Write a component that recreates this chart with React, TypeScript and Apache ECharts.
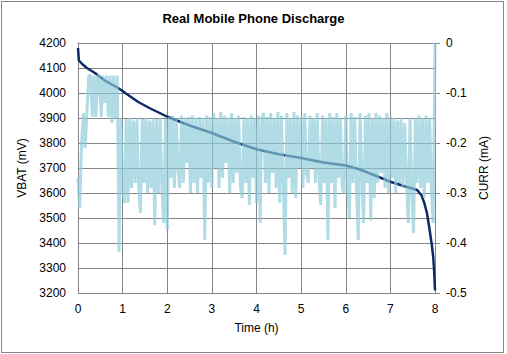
import React, { useEffect, useRef } from "react";
import * as echarts from "echarts";

const chartTitle = "Real Mobile Phone Discharge";
const xAxisName = "Time (h)";
const leftAxisName = "VBAT (mV)";
const rightAxisName = "CURR (mA)";

// Battery voltage (mV) vs time (h)
const voltageTimes = [0, 0.02, 0.1, 0.2, 0.38, 0.6, 0.9, 1.1, 1.35, 1.6, 2.0, 2.5, 3.0, 3.5, 4.0, 4.5, 5.0, 5.5, 6.0, 6.3, 6.66, 7.0, 7.3, 7.6, 7.7, 7.76, 7.82, 7.89, 7.93, 7.96, 7.98, 8.0];
const voltageValues = [4180, 4130, 4115, 4100, 4080, 4050, 4020, 3995, 3964, 3940, 3905, 3870, 3840, 3805, 3775, 3755, 3740, 3722, 3710, 3695, 3670, 3645, 3628, 3612, 3590, 3560, 3520, 3440, 3390, 3344, 3290, 3210];

// Current (mA), sampled every 0.04 h from t = 0 to t = 8
const currentStepHours = 0.04;
const currentValues = [
  // hour 0
  -0.27, -0.33, -0.2, -0.14, -0.21, -0.14, -0.065, -0.065, -0.148, -0.065, -0.148, -0.065, -0.065, -0.148, -0.065, -0.12, -0.065, -0.148, -0.065, -0.16, -0.065, -0.15, -0.065, -0.418, -0.15,
  // hour 1
  -0.29, -0.32, -0.152, -0.32, -0.15, -0.29, -0.155, -0.28, -0.15, -0.29, -0.34, -0.152, -0.28, -0.15, -0.3, -0.155, -0.29, -0.15, -0.364, -0.152, -0.3, -0.15, -0.29, -0.36, -0.152,
  // hour 2
  -0.374, -0.148, -0.27, -0.145, -0.29, -0.15, -0.25, -0.29, -0.145, -0.28, -0.15, -0.24, -0.148, -0.3, -0.145, -0.28, -0.15, -0.3, -0.148, -0.27, -0.15, -0.394, -0.145, -0.28, -0.148,
  // hour 3
  -0.29, -0.14, -0.25, -0.15, -0.29, -0.138, -0.27, -0.145, -0.24, -0.15, -0.3, -0.14, -0.28, -0.15, -0.26, -0.145, -0.29, -0.31, -0.148, -0.28, -0.15, -0.324, -0.145, -0.27, -0.15,
  // hour 4
  -0.32, -0.145, -0.36, -0.15, -0.14, -0.28, -0.148, -0.3, -0.14, -0.26, -0.15, -0.29, -0.138, -0.32, -0.145, -0.28, -0.424, -0.14, -0.27, -0.15, -0.3, -0.138, -0.31, -0.145, -0.25,
  // hour 5
  -0.15, -0.29, -0.14, -0.26, -0.28, -0.145, -0.25, -0.15, -0.28, -0.14, -0.27, -0.324, -0.145, -0.28, -0.15, -0.394, -0.14, -0.28, -0.148, -0.33, -0.14, -0.27, -0.15, -0.29, -0.3,
  // hour 6
  -0.145, -0.28, -0.35, -0.14, -0.28, -0.148, -0.29, -0.394, -0.14, -0.27, -0.36, -0.145, -0.28, -0.14, -0.355, -0.15, -0.31, -0.14, -0.28, -0.145, -0.26, -0.15, -0.29, -0.14, -0.3,
  // hour 7 .. 8
  -0.148, -0.27, -0.15, -0.3, -0.155, -0.28, -0.15, -0.29, -0.16, -0.27, -0.36, -0.15, -0.3, -0.38, -0.15, -0.28, -0.145, -0.29, -0.15, -0.31, -0.145, -0.28, -0.15, -0.3, -0.36, 0,
];

const FONT = "'Liberation Sans', Arial, sans-serif";
const GRID_COLOR = "#868686";

export default function App() {
  const ref = useRef<HTMLDivElement>(null);

  useEffect(() => {
    if (!ref.current) return;
    const chart = echarts.init(ref.current, undefined, { renderer: "svg" });
    const voltageData = voltageTimes.map((t, i) => [t, voltageValues[i]]);
    const currentData = currentValues.map((v, i) => [i * currentStepHours, v]);
    const labelStyle = { color: "#000", fontSize: 12, fontFamily: FONT };
    chart.setOption({
      animation: false,
      backgroundColor: "transparent",
      title: {
        text: chartTitle,
        left: "center",
        top: 12,
        padding: 0,
        textStyle: { fontSize: 13, fontWeight: "bold", color: "#000", fontFamily: FONT },
      },
      grid: { left: 78, top: 43, width: 357, height: 250, containLabel: false },
      xAxis: {
        type: "value",
        min: 0,
        max: 8,
        interval: 1,
        name: xAxisName,
        nameLocation: "middle",
        nameGap: 29,
        nameTextStyle: labelStyle,
        axisLine: { show: true, lineStyle: { color: GRID_COLOR, width: 1 } },
        axisTick: { show: false },
        axisLabel: { ...labelStyle, margin: 10 },
        splitLine: { show: true, lineStyle: { color: GRID_COLOR, width: 1 } },
      },
      yAxis: [
        {
          type: "value",
          min: 3200,
          max: 4200,
          interval: 100,
          position: "left",
          name: leftAxisName,
          nameLocation: "middle",
          nameRotate: 90,
          nameGap: 33,
          nameTextStyle: labelStyle,
          axisLine: { show: true, lineStyle: { color: GRID_COLOR, width: 1 } },
          axisTick: { show: false },
          axisLabel: { ...labelStyle, margin: 12, formatter: (v: number) => String(v) },
          splitLine: { show: true, lineStyle: { color: GRID_COLOR, width: 1 } },
        },
        {
          type: "value",
          min: -0.5,
          max: 0,
          interval: 0.1,
          position: "right",
          name: rightAxisName,
          nameLocation: "middle",
          nameRotate: 90,
          nameGap: 41,
          nameTextStyle: labelStyle,
          axisLine: { show: true, lineStyle: { color: GRID_COLOR, width: 1 } },
          axisTick: { show: true, inside: false, length: 5, lineStyle: { color: GRID_COLOR } },
          axisLabel: { ...labelStyle, margin: 11 },
          splitLine: { show: false },
        },
      ],
      series: [
        {
          name: "VBAT",
          type: "line",
          yAxisIndex: 0,
          data: voltageData,
          showSymbol: false,
          symbol: "none",
          lineStyle: { color: "#0c2a63", width: 2.5 },
          z: 2,
        },
        {
          name: "CURR",
          type: "line",
          yAxisIndex: 1,
          data: currentData,
          showSymbol: false,
          symbol: "none",
          lineStyle: { color: "#8ccbd9", width: 3, opacity: 0.68 },
          z: 3,
        },
      ],
    });
    return () => chart.dispose();
  }, []);

  return (
    <div style={{ position: "fixed", left: 0, top: 0, width: 507, height: 354, background: "#fff" }}>
      <div
        style={{
          position: "absolute",
          left: 1,
          top: 1,
          width: 503,
          height: 352,
          boxSizing: "border-box",
          border: "1px solid #868686",
        }}
      />
      <div ref={ref} style={{ position: "absolute", left: 0, top: 0, width: 507, height: 354 }} />
    </div>
  );
}
